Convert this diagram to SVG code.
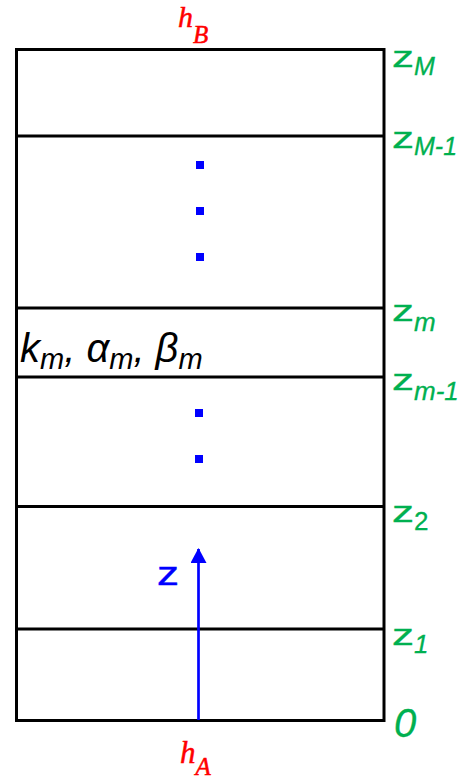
<svg xmlns="http://www.w3.org/2000/svg" width="460" height="780" viewBox="0 0 460 780">
<style>
.ln{stroke:#000;stroke-width:3;fill:none}
.g{fill:#00b050;stroke:#00b050;stroke-width:0.3;font-family:"Liberation Sans",Arial,sans-serif}
.r{fill:#ff0000;stroke:#ff0000;stroke-width:0.5;font-family:"Liberation Serif","Times New Roman",serif;font-style:italic}
.b{fill:#0000ff;stroke:#0000ff;stroke-width:0.4;font-family:"Liberation Sans",Arial,sans-serif}
.k{fill:#000;font-family:"Liberation Sans",Arial,sans-serif;font-style:italic}
.i{font-style:italic}
.dot{fill:#0000ff}
</style>
<defs>
<marker id="ah" viewBox="0 0 15 16" refX="14" refY="8" markerWidth="15" markerHeight="16" orient="auto" markerUnits="userSpaceOnUse">
<path d="M0,0 L15,8 L0,16 Z" fill="#0000ff"/>
</marker>
</defs>
<rect fill="#fff" x="0" y="0" width="460" height="780"/>
<g id="layers">
<rect class="ln" x="16.5" y="49.5" width="367.5" height="671"/>
<line class="ln" x1="16" y1="136" x2="385" y2="136"/>
<line class="ln" x1="16" y1="308" x2="385" y2="308"/>
<line class="ln" x1="16" y1="377" x2="385" y2="377"/>
<line class="ln" x1="16" y1="506.5" x2="385" y2="506.5"/>
<line class="ln" x1="16" y1="629" x2="385" y2="629"/>
</g>
<g id="dots">
<rect class="dot" x="196" y="161" width="8" height="8"/>
<rect class="dot" x="196" y="207" width="8" height="8"/>
<rect class="dot" x="196" y="253" width="8" height="8"/>
<rect class="dot" x="195" y="409" width="8" height="8"/>
<rect class="dot" x="195" y="455" width="8" height="8"/>
</g>
<g id="connectors">
<line x1="198.5" y1="720" x2="198.5" y2="549" stroke="#0000ff" stroke-width="2.7" marker-end="url(#ah)"/>
</g>
<g id="axis-label">
<text class="b" x="157" y="585" font-size="33" textLength="22" lengthAdjust="spacingAndGlyphs">z</text>
</g>
<g id="params">
<text class="k" x="20" y="362" font-size="40">k<tspan font-size="29" dy="7">m</tspan><tspan dy="-7">, α</tspan><tspan font-size="29" dy="7">m</tspan><tspan dy="-7">, β</tspan><tspan font-size="29" dy="7">m</tspan></text>
</g>
<g id="red-labels">
<text class="r" x="178" y="27" font-size="30">h<tspan font-size="25" dy="16">B</tspan></text>
<text class="r" x="180" y="763" font-size="31">h<tspan font-size="25" dy="12">A</tspan></text>
</g>
<g id="green-labels">
<text class="g" x="392" y="67" font-size="29" textLength="22" lengthAdjust="spacingAndGlyphs">z</text>
<text class="g i" x="414" y="75" font-size="25">M</text>
<text class="g" x="392" y="148" font-size="29" textLength="22" lengthAdjust="spacingAndGlyphs">z</text>
<text class="g i" x="414" y="155" font-size="25">M-1</text>
<text class="g" x="392" y="321" font-size="29" textLength="22" lengthAdjust="spacingAndGlyphs">z</text>
<text class="g i" x="414" y="331" font-size="26">m</text>
<text class="g" x="392" y="390" font-size="29" textLength="22" lengthAdjust="spacingAndGlyphs">z</text>
<text class="g i" x="414" y="400" font-size="26">m-1</text>
<text class="g" x="392" y="522" font-size="29" textLength="22" lengthAdjust="spacingAndGlyphs">z</text>
<text class="g" x="414" y="530" font-size="26">2</text>
<text class="g" x="392" y="645" font-size="29" textLength="22" lengthAdjust="spacingAndGlyphs">z</text>
<text class="g i" x="414" y="653" font-size="26">1</text>
<text class="g i" x="394" y="737" font-size="40">0</text>
</g>
</svg>
